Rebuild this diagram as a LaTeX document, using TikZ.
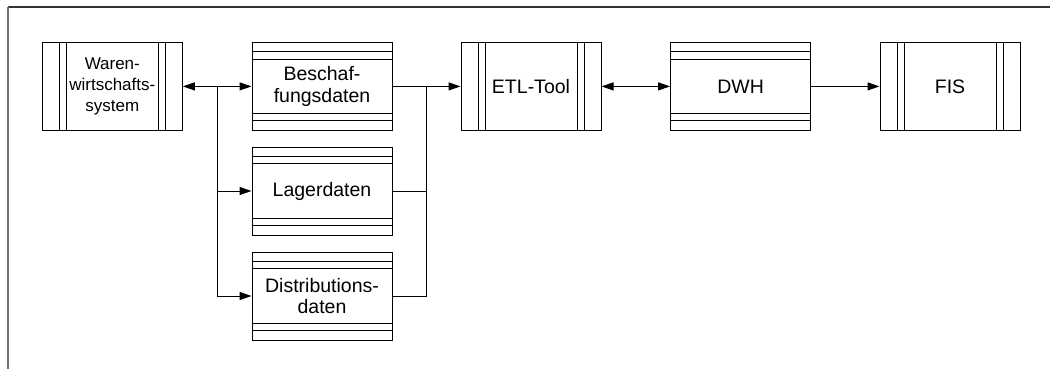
\documentclass[tikz,border=0pt]{standalone}
\usepackage{fontspec}
\setmainfont{Liberation Sans}
\usetikzlibrary{arrows.meta,calc}

\tikzset{
    box/.style={draw,line width=1pt,minimum width=140pt,minimum height=88pt,
        align=center,inner sep=0pt,font=\fontsize{19.5}{21.7}\selectfont},
    flow/.style={line width=1pt,-{Triangle[length=12pt,width=8pt]}},
    twoway/.style={line width=1pt,{Triangle[length=12pt,width=8pt]}-{Triangle[length=12pt,width=8pt]}}
}

\begin{document}
\begin{tikzpicture}[x=1pt,y=-1pt]
    \useasboundingbox (0,0) rectangle (1050,369);
    % frame
    \draw[line width=1.5pt,black!80] (8,7) -- (1050,7);
    \draw[line width=1.5pt,black!55] (8,7) -- (8,369);
    % boxes
    \node[box,font=\fontsize{17}{21.2}\selectfont] (waren) at (112.3,86.4) {Waren-\\wirtschafts-\\system};
    \node[box] (beschaf) at (322,86.4) {Beschaf-\\fungsdaten};
    \node[box] (lager) at (322,191) {Lagerdaten};
    \node[box] (distrib) at (322,296) {Distributions-\\daten};
    \node[box] (etl) at (531,86.4) {ETL-Tool};
    \node[box] (dwh) at (740.6,86.4) {DWH};
    \node[box] (fis) at (950,86.4) {FIS};
    % side lines of the systems
    \foreach \n in {waren,etl,fis} {
        \foreach \d in {17.5,24.5} {
            \draw[line width=1pt] ([xshift=\d pt]\n.north west) -- ([xshift=\d pt]\n.south west);
            \draw[line width=1pt] ([xshift=-\d pt]\n.north east) -- ([xshift=-\d pt]\n.south east);
        }
    }
    % bands of the data stores
    \foreach \n in {beschaf,lager,distrib,dwh} {
        \foreach \d in {10,17.3} {
            \draw[line width=1pt] ([yshift=-\d pt]\n.north west) -- ([yshift=-\d pt]\n.north east);
            \draw[line width=1pt] ([yshift=\d pt]\n.south west) -- ([yshift=\d pt]\n.south east);
        }
    }
    % junctions
    \coordinate (split) at ($(waren.east)!0.5!(beschaf.west)$);
    \coordinate (merge) at ($(beschaf.east)!0.5!(etl.west)$);
    % connectors
    \draw[twoway] (waren) -- (beschaf);
    \draw[flow] (split) |- (lager);
    \draw[flow] (split) |- (distrib);
    \draw[flow] (beschaf) -- (merge) -- (etl);
    \draw[line width=1pt] (lager) -| (merge);
    \draw[line width=1pt] (distrib) -| (merge);
    \draw[twoway] (etl) -- (dwh);
    \draw[flow] (dwh) -- (fis);
\end{tikzpicture}
\end{document}
